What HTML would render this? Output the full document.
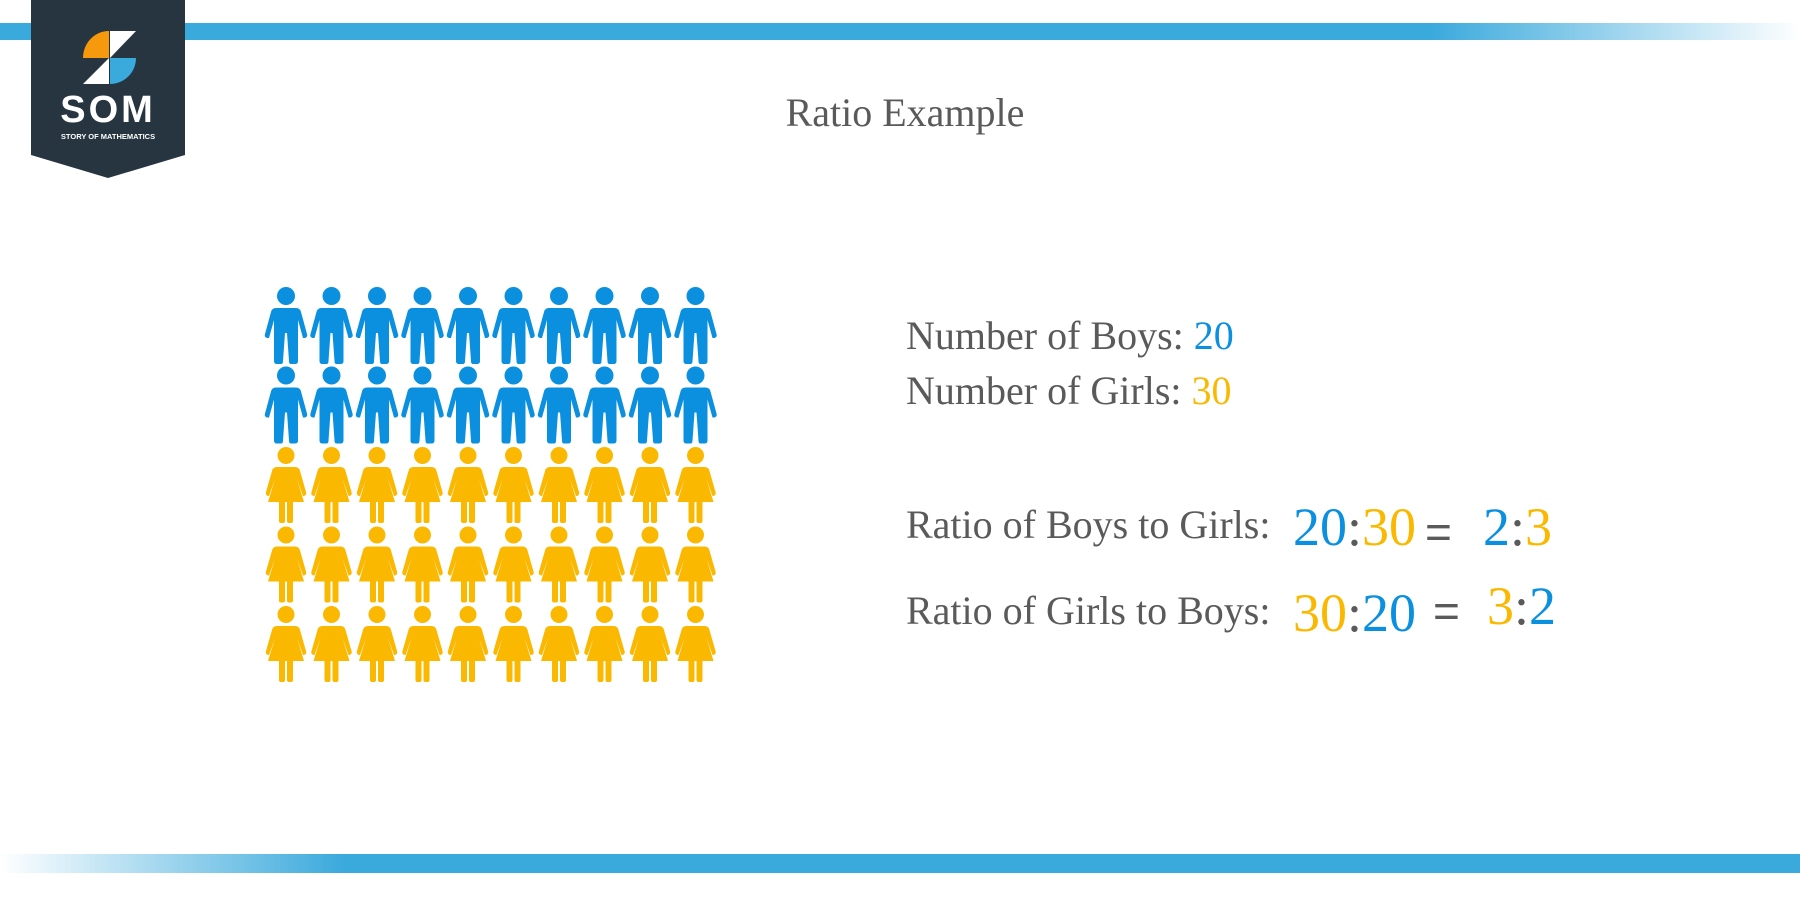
<!DOCTYPE html>
<html><head><meta charset="utf-8"><style>
html,body{margin:0;padding:0;background:#fff;}
body{width:1800px;height:900px;position:relative;overflow:hidden;font-family:"Liberation Serif",serif;color:#5a5a5a;}
.t{position:absolute;white-space:nowrap;}
.b{color:#0b8fdf}.o{color:#fbb800}
</style></head><body>
<div style="position:absolute;left:0;top:23px;width:1800px;height:17px;background:linear-gradient(90deg,#3aa9dc 0,#3aa9dc 1430px,#ffffff 1800px)"></div>
<div style="position:absolute;left:0;top:854px;width:1800px;height:19px;background:linear-gradient(90deg,#ffffff 0,#3aa9dc 345px,#3aa9dc 1800px)"></div>
<svg style="position:absolute;left:0;top:0" width="200" height="190">
<polygon points="31,0 185,0 185,155 108,178 31,155" fill="#263540"/>
<path d="M109,31 L109,58 L83,58 A26,27 0 0 1 109,31 Z" fill="#f7990d"/>
<polygon points="110,31 136,31 110,58" fill="#fff"/>
<path d="M110,58 L136,58 A26,26 0 0 1 110,84 Z" fill="#3aa9dc"/>
<polygon points="109,58 109,84 83,84" fill="#fff"/>
<text x="108" y="122" text-anchor="middle" fill="#fff" font-family="Liberation Sans, sans-serif" font-weight="bold" font-size="38" letter-spacing="3">SOM</text>
<text x="108" y="139" text-anchor="middle" fill="#fff" font-family="Liberation Sans, sans-serif" font-weight="bold" font-size="7.5">STORY OF MATHEMATICS</text>
</svg>
<div class="t" style="left:0;width:1810px;text-align:center;top:89px;font-size:40px">Ratio Example</div>
<svg id="fig" style="position:absolute;left:0;top:0" width="760" height="720"></svg>
<div class="t" style="left:906px;top:312px;font-size:40px">Number of Boys: <span class="b">20</span></div>
<div class="t" style="left:906px;top:367px;font-size:40px">Number of Girls: <span class="o">30</span></div>
<div class="t" style="left:906px;top:501px;font-size:40px">Ratio of Boys to Girls:</div>
<div class="t" style="left:1293px;top:496px;font-size:54px"><span class="b">20</span>:<span class="o">30</span></div>
<div class="t" style="left:1425px;top:505px;font-size:46px;font-family:'Liberation Sans',sans-serif">=</div>
<div class="t" style="left:1483px;top:496px;font-size:54px"><span class="b">2</span>:<span class="o">3</span></div>
<div class="t" style="left:906px;top:587px;font-size:40px">Ratio of Girls to Boys:</div>
<div class="t" style="left:1293px;top:582px;font-size:54px"><span class="o">30</span>:<span class="b">20</span></div>
<div class="t" style="left:1433px;top:584px;font-size:46px;font-family:'Liberation Sans',sans-serif">=</div>
<div class="t" style="left:1487px;top:575px;font-size:54px"><span class="o">3</span>:<span class="b">2</span></div>
<script>
const boys = 20;
const girls = 30;
const perRow = 10;
const svg = document.getElementById('fig');
const NS = 'http://www.w3.org/2000/svg';
const boyPath = "M-10,21 L10,21 Q14,21 15,25 L21,47 Q22,50 19,51 L17,51 L12,33 L12,74 Q12,77 9,77 L5,77 Q3,77 3,74 L1,46 L-1,46 L-3,74 Q-3,77 -5,77 L-9,77 Q-12,77 -12,74 L-12,33 L-17,51 L-19,51 Q-22,50 -21,47 L-15,25 Q-14,21 -10,21 Z";
const girlPath = "M-9,21 L9,21 Q13,21 14,25 L20,46 Q21,49 18,50 L17,50 L11,33 L18,56 L7,56 L7,75 Q7,77 5,77 L3,77 Q1,77 1,75 L1,56 L-1,56 L-1,75 Q-1,77 -3,77 L-5,77 Q-7,77 -7,75 L-7,56 L-18,56 L-11,33 L-17,50 L-18,50 Q-21,49 -20,46 L-14,25 Q-13,21 -9,21 Z";
function xPos(c){return 286 + c*45.5;}
function yPos(r){return 287 + r*79.5;}
const total = boys + girls;
for (let i=0;i<total;i++){
  const isBoy = i < boys;
  const r = Math.floor(i/perRow), c = i%perRow;
  const g = document.createElementNS(NS,'g');
  
  
  g.setAttribute('transform','translate('+xPos(c)+','+yPos(r)+')');
  g.setAttribute('fill', isBoy ? '#0b8fdf' : '#fbb800');
  const h = document.createElementNS(NS,'circle');
  h.setAttribute('cx',0);h.setAttribute('cy',isBoy?9:9.5);h.setAttribute('r',isBoy?9:8.5);
  const p = document.createElementNS(NS,'path');
  p.setAttribute('d', isBoy ? boyPath : girlPath);
  g.appendChild(h);g.appendChild(p);
  svg.appendChild(g);
}
</script>
</body></html>
